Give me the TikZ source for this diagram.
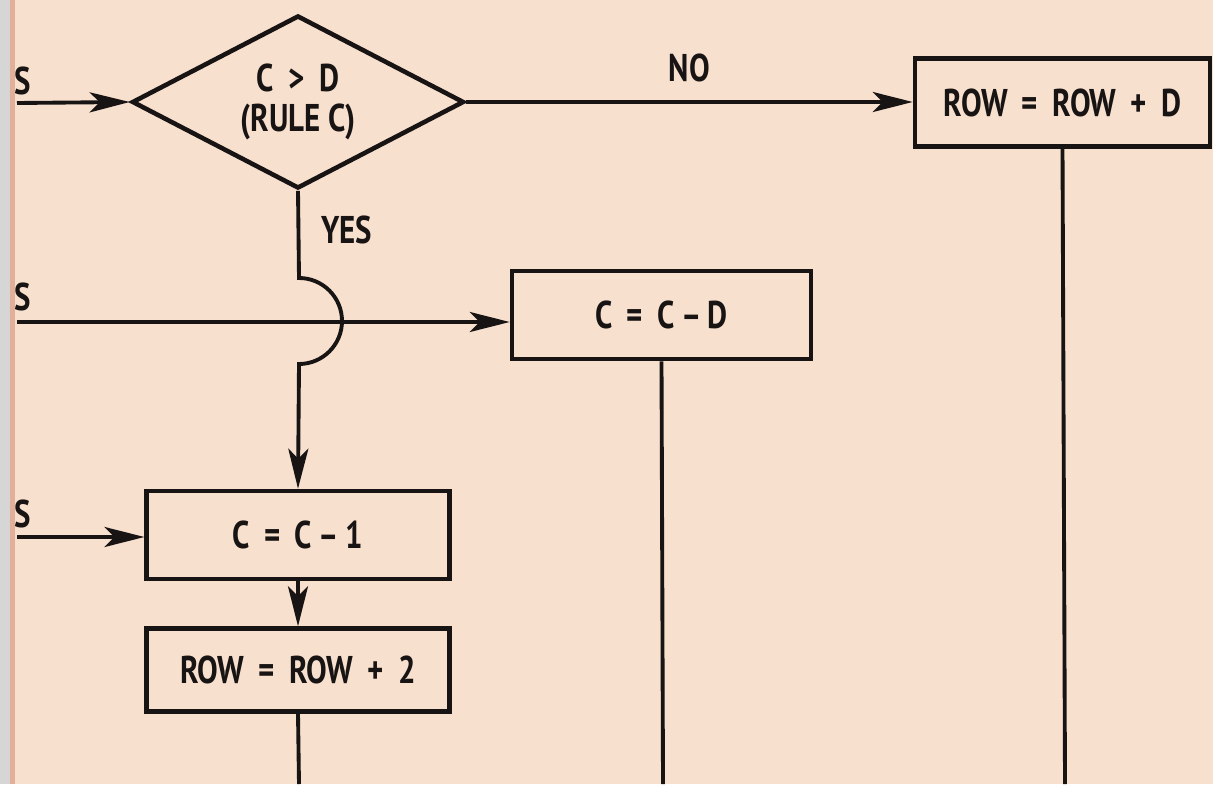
\documentclass[tikz,border=0pt]{standalone}
\usepackage{fontspec}
\newfontfamily\chartfont[FakeStretch=0.8]{PT Sans}
\usetikzlibrary{arrows.meta,positioning,shapes.geometric}
\definecolor{paper}{RGB}{247,224,206}
\definecolor{scangrey}{RGB}{214,214,214}
\definecolor{pageedge}{RGB}{226,176,152}
\definecolor{ink}{RGB}{25,20,20}

\begin{document}
\begin{tikzpicture}[
    node distance=0.9cm,
    every node/.style={text=ink, font=\chartfont\bfseries\fontsize{22}{21}\selectfont},
    box/.style={rectangle, draw=ink, line width=2.6pt, minimum width=6.05cm,
                minimum height=1.76cm, inner sep=0pt},
    decision/.style={diamond, draw=ink, line width=2.6pt, minimum width=6.64cm,
                minimum height=3.46cm, inner sep=-4mm, align=center},
    flow/.style={draw=ink, line width=2.2pt, -{Stealth[length=8mm,width=4mm,inset=2mm]}},
    link/.style={draw=ink, line width=2.2pt}]
\fill[paper] (0,0) rectangle (24.26,-15.68);
\useasboundingbox (0,0) rectangle (24.26,-15.68);

\node[decision] (test) at (5.96,-2.04) {C \,>\, D\\[0.05cm](RULE C)};
\node[box, minimum width=5.9cm] (rowd) at (21.25,-2.05) {ROW \,=\, ROW \,+\, D};
\node[box, minimum width=5.98cm] (ccd) at (13.23,-6.3) {C \,=\, C\,–\,D};
\node[box] (cone) at (5.96,-10.7) {C \,=\, C\,–\,1};
\node[box, below=0.9cm of cone, minimum height=1.66cm] (rowtwo) {ROW \,=\, ROW \,+\, 2};

% loose ends at the page edge
\coordinate (ina) at (0.34,-2.06);
\coordinate (inb) at (0.34,-6.44);
\coordinate (inc) at (0.34,-10.74);
\coordinate (hop) at (5.98,-5.56);
\coordinate (outa) at (5.98,-15.68);
\coordinate (outb) at (13.26,-15.68);
\coordinate (outc) at (21.3,-15.68);

\draw[flow] (ina) -- (test.west);
\draw[flow] (test.east) -- node[above=0.25cm] (no) {NO} (test.east -| rowd.west);
\draw[flow] (inb) -- (inb -| ccd.west);
\draw[flow] (inc) -- (inc -| cone.west);
\draw[flow] (test.south) -- node[right=0.3cm, pos=0.45] (yes) {YES} (hop)
    arc[start angle=90, end angle=-90, radius=0.86cm] -- (cone.north);
\draw[flow] (cone) -- (rowtwo);
\draw[link] (rowtwo.south) -- (outa);
\draw[link] (ccd.south) -- (outb);
\draw[link] (rowd.south) -- (outc);

\node (sa) at (0.46,-1.62) {S};
\node (sb) at (0.46,-5.94) {S};
\node (sc) at (0.46,-10.28) {S};

% scanner margin
\fill[scangrey] (0,0) rectangle (0.2,-15.68);
\fill[pageedge] (0.2,0) rectangle (0.3,-15.68);
\end{tikzpicture}
\end{document}
